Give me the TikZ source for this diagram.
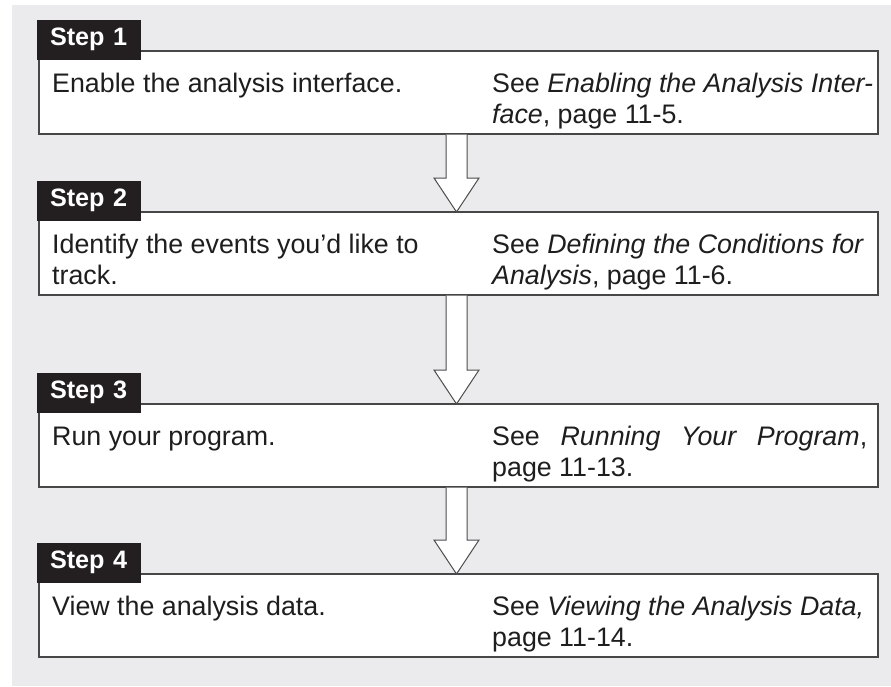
\documentclass[tikz,border=0pt]{standalone}
\usepackage{fontspec}
\setmainfont{Liberation Sans}
\usetikzlibrary{calc}
\definecolor{bggray}{RGB}{235,235,237}
\definecolor{tabblack}{RGB}{35,31,32}
\definecolor{txtcol}{RGB}{30,30,30}
\begin{document}
\begin{tikzpicture}[x=1pt,y=-1pt,
  txt/.style={anchor=base west,inner sep=0pt,font=\fontsize{26.8}{31}\selectfont,text=txtcol},
  stepbox/.style={draw=black!72,line width=1.3pt,fill=white,minimum width=839pt,minimum height=83pt,inner sep=0pt,outer sep=0pt},
  tabbox/.style={fill=tabblack,anchor=base west,text=white,font=\fontsize{25.2}{30}\selectfont\bfseries,
     text width=78pt,inner xsep=13pt,inner ysep=0pt,text height=25pt,text depth=15pt,outer sep=0pt,align=left},
  arr/.style={draw=black!70,line width=1pt,fill=white,line join=miter}]
\useasboundingbox (0,0) rectangle (891,686);
\fill[bggray] (12,5) rectangle (891,686);
% boxes
\node[stepbox] (b1) at (458.5,92.5) {};
\node[stepbox] (b2) at (458.5,253.5) {};
\node[stepbox] (b3) at (458.5,445.5) {};
\node[stepbox] (b4) at (458.5,615.5) {};
% arrows
\foreach \a/\b in {b1/b2,b2/b3,b3/b4}{
  \draw[arr] ([xshift=-12.5pt,yshift=-0.7pt]\a.south) -- ([xshift=-12.5pt,yshift=34pt]\b.north)
    -- ([xshift=-24.5pt,yshift=34pt]\b.north) -- ([xshift=-2pt]\b.north)
    -- ([xshift=20.5pt,yshift=34pt]\b.north) -- ([xshift=8.5pt,yshift=34pt]\b.north)
    -- ([xshift=8.5pt,yshift=-0.7pt]\a.south);
}
% tabs
\node[tabbox] (s1) at (37,45) {Step 1};
\node[tabbox] (s2) at (37,206) {Step 2};
\node[tabbox] (s3) at (37,398) {Step 3};
\node[tabbox] (s4) at (37,568) {Step 4};
% texts
\node[txt] (l1) at (52,92) {Enable the analysis interface.};
\node[txt] (r1a) at (492,92) {See \textit{Enabling the Analysis Inter-}};
\node[txt] (r1b) at (492,123) {\textit{face}, page 11-5.};
\node[txt] (l2a) at (52,253) {Identify the events you’d like to};
\node[txt] (l2b) at (52,284) {track.};
\node[txt] (r2a) at (492,253) {See \textit{Defining the Conditions for}};
\node[txt] (r2b) at (492,284) {\textit{Analysis}, page 11-6.};
\node[txt] (l3) at (52,445) {Run your program.};
\node[txt] (r3a) at (492,445) {\makebox[375pt][s]{See \textit{Running Your Program},}};
\node[txt] (r3b) at (492,476) {page 11-13.};
\node[txt] (l4) at (52,615) {View the analysis data.};
\node[txt] (r4a) at (492,615) {See \textit{Viewing the Analysis Data,}};
\node[txt] (r4b) at (492,646) {page 11-14.};
\end{tikzpicture}
\end{document}
